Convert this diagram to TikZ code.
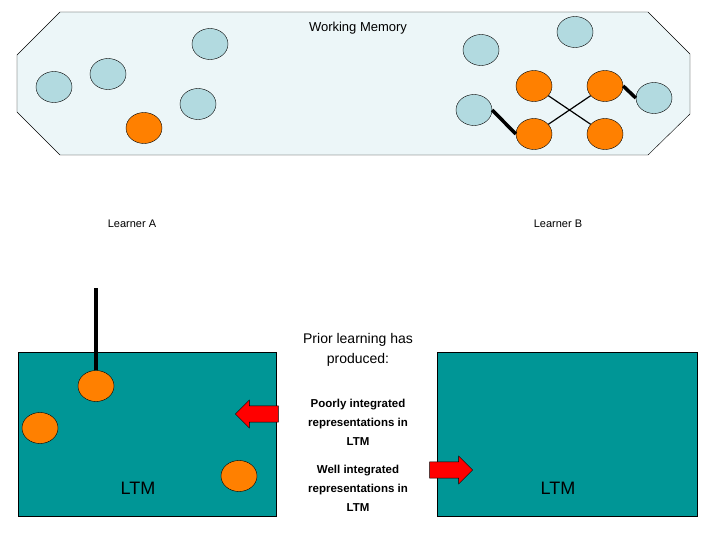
\documentclass[tikz,border=0pt]{standalone}
\usepackage{fontspec}
\setmainfont{Liberation Sans}
\usetikzlibrary{shapes.arrows,shapes.geometric}
\definecolor{wm}{RGB}{236,246,248}
\definecolor{bl}{RGB}{178,218,224}
\definecolor{org}{RGB}{255,128,0}
\definecolor{teal2}{RGB}{0,150,150}
\begin{document}
\begin{tikzpicture}[x=1pt,y=-1pt,
 bc/.style={ellipse,draw=black,fill=bl,minimum width=36pt,minimum height=31pt,inner sep=0pt},
 oc/.style={ellipse,draw=black,fill=org,minimum width=36pt,minimum height=31pt,inner sep=0pt},
 box/.style={draw=black,fill=teal2},
 arr/.style={single arrow,draw=black,fill=red,minimum height=43pt,minimum width=28pt,single arrow head extend=3pt,inner sep=4pt},
 lbl/.style={font=\fontsize{11}{13}\selectfont},
 bt/.style={font=\fontsize{11.5}{19}\selectfont\bfseries,align=center}]
\useasboundingbox (0,0) rectangle (720,540);
\draw[fill=wm] (60,12)--(648,12)--(690,54)--(690,114)--(648,155)--(60,155)--(17,112)--(17,55)--cycle;
\node[lbl,font=\fontsize{13}{15}\selectfont] (wmt) at (358,28) {Working Memory};
\node[bc] (b1) at (210,44) {};
\node[bc] (b2) at (54,87) {};
\node[bc] (b3) at (108,74) {};
\node[bc] (b4) at (198,104) {};
\node[bc] (b5) at (481,50) {};
\node[bc] (b6) at (575,32) {};
\node[bc] (b7) at (474,110) {};
\node[bc] (b8) at (654,98) {};
\node[oc] (o0) at (144,128) {};
\node[oc] (o1) at (534,86) {};
\node[oc] (o2) at (605,86) {};
\node[oc] (o3) at (534,134) {};
\node[oc] (o4) at (605,134) {};
\draw[very thick] (o1)--(o4) (o3)--(o2);
\draw[line width=3.5pt] (b7.east)--(o3.west);
\draw[line width=3.5pt] (o2.east)--(b8.west);
\node[lbl] (la) at (132,224) {Learner A};
\node[lbl] (lb) at (558,224) {Learner B};
\draw[box] (18,352) rectangle (276,516);
\draw[box] (437,352) rectangle (697,516);
\node[font=\fontsize{18}{20}\selectfont] (l1) at (138,488) {LTM};
\node[font=\fontsize{18}{20}\selectfont] (l2) at (558,488) {LTM};
\node[oc] (a1) at (96,386) {};
\node[oc] (a2) at (40,428) {};
\node[oc] (a3) at (239,476) {};
\coordinate (top) at (96,288);
\draw[line width=4pt] (top)--(a1.north);
\node[align=center,font=\fontsize{14}{20}\selectfont] (pl) at (358,350) {Prior learning has\\produced:};
\node[bt] (pi) at (358,422) {Poorly integrated\\representations in\\LTM};
\node[bt] (wi) at (358,488) {Well integrated\\representations in\\LTM};
\node[arr,shape border rotate=180] (ar1) at (261,414) {};
\node[arr] (ar2) at (447,470) {};
\end{tikzpicture}
\end{document}
